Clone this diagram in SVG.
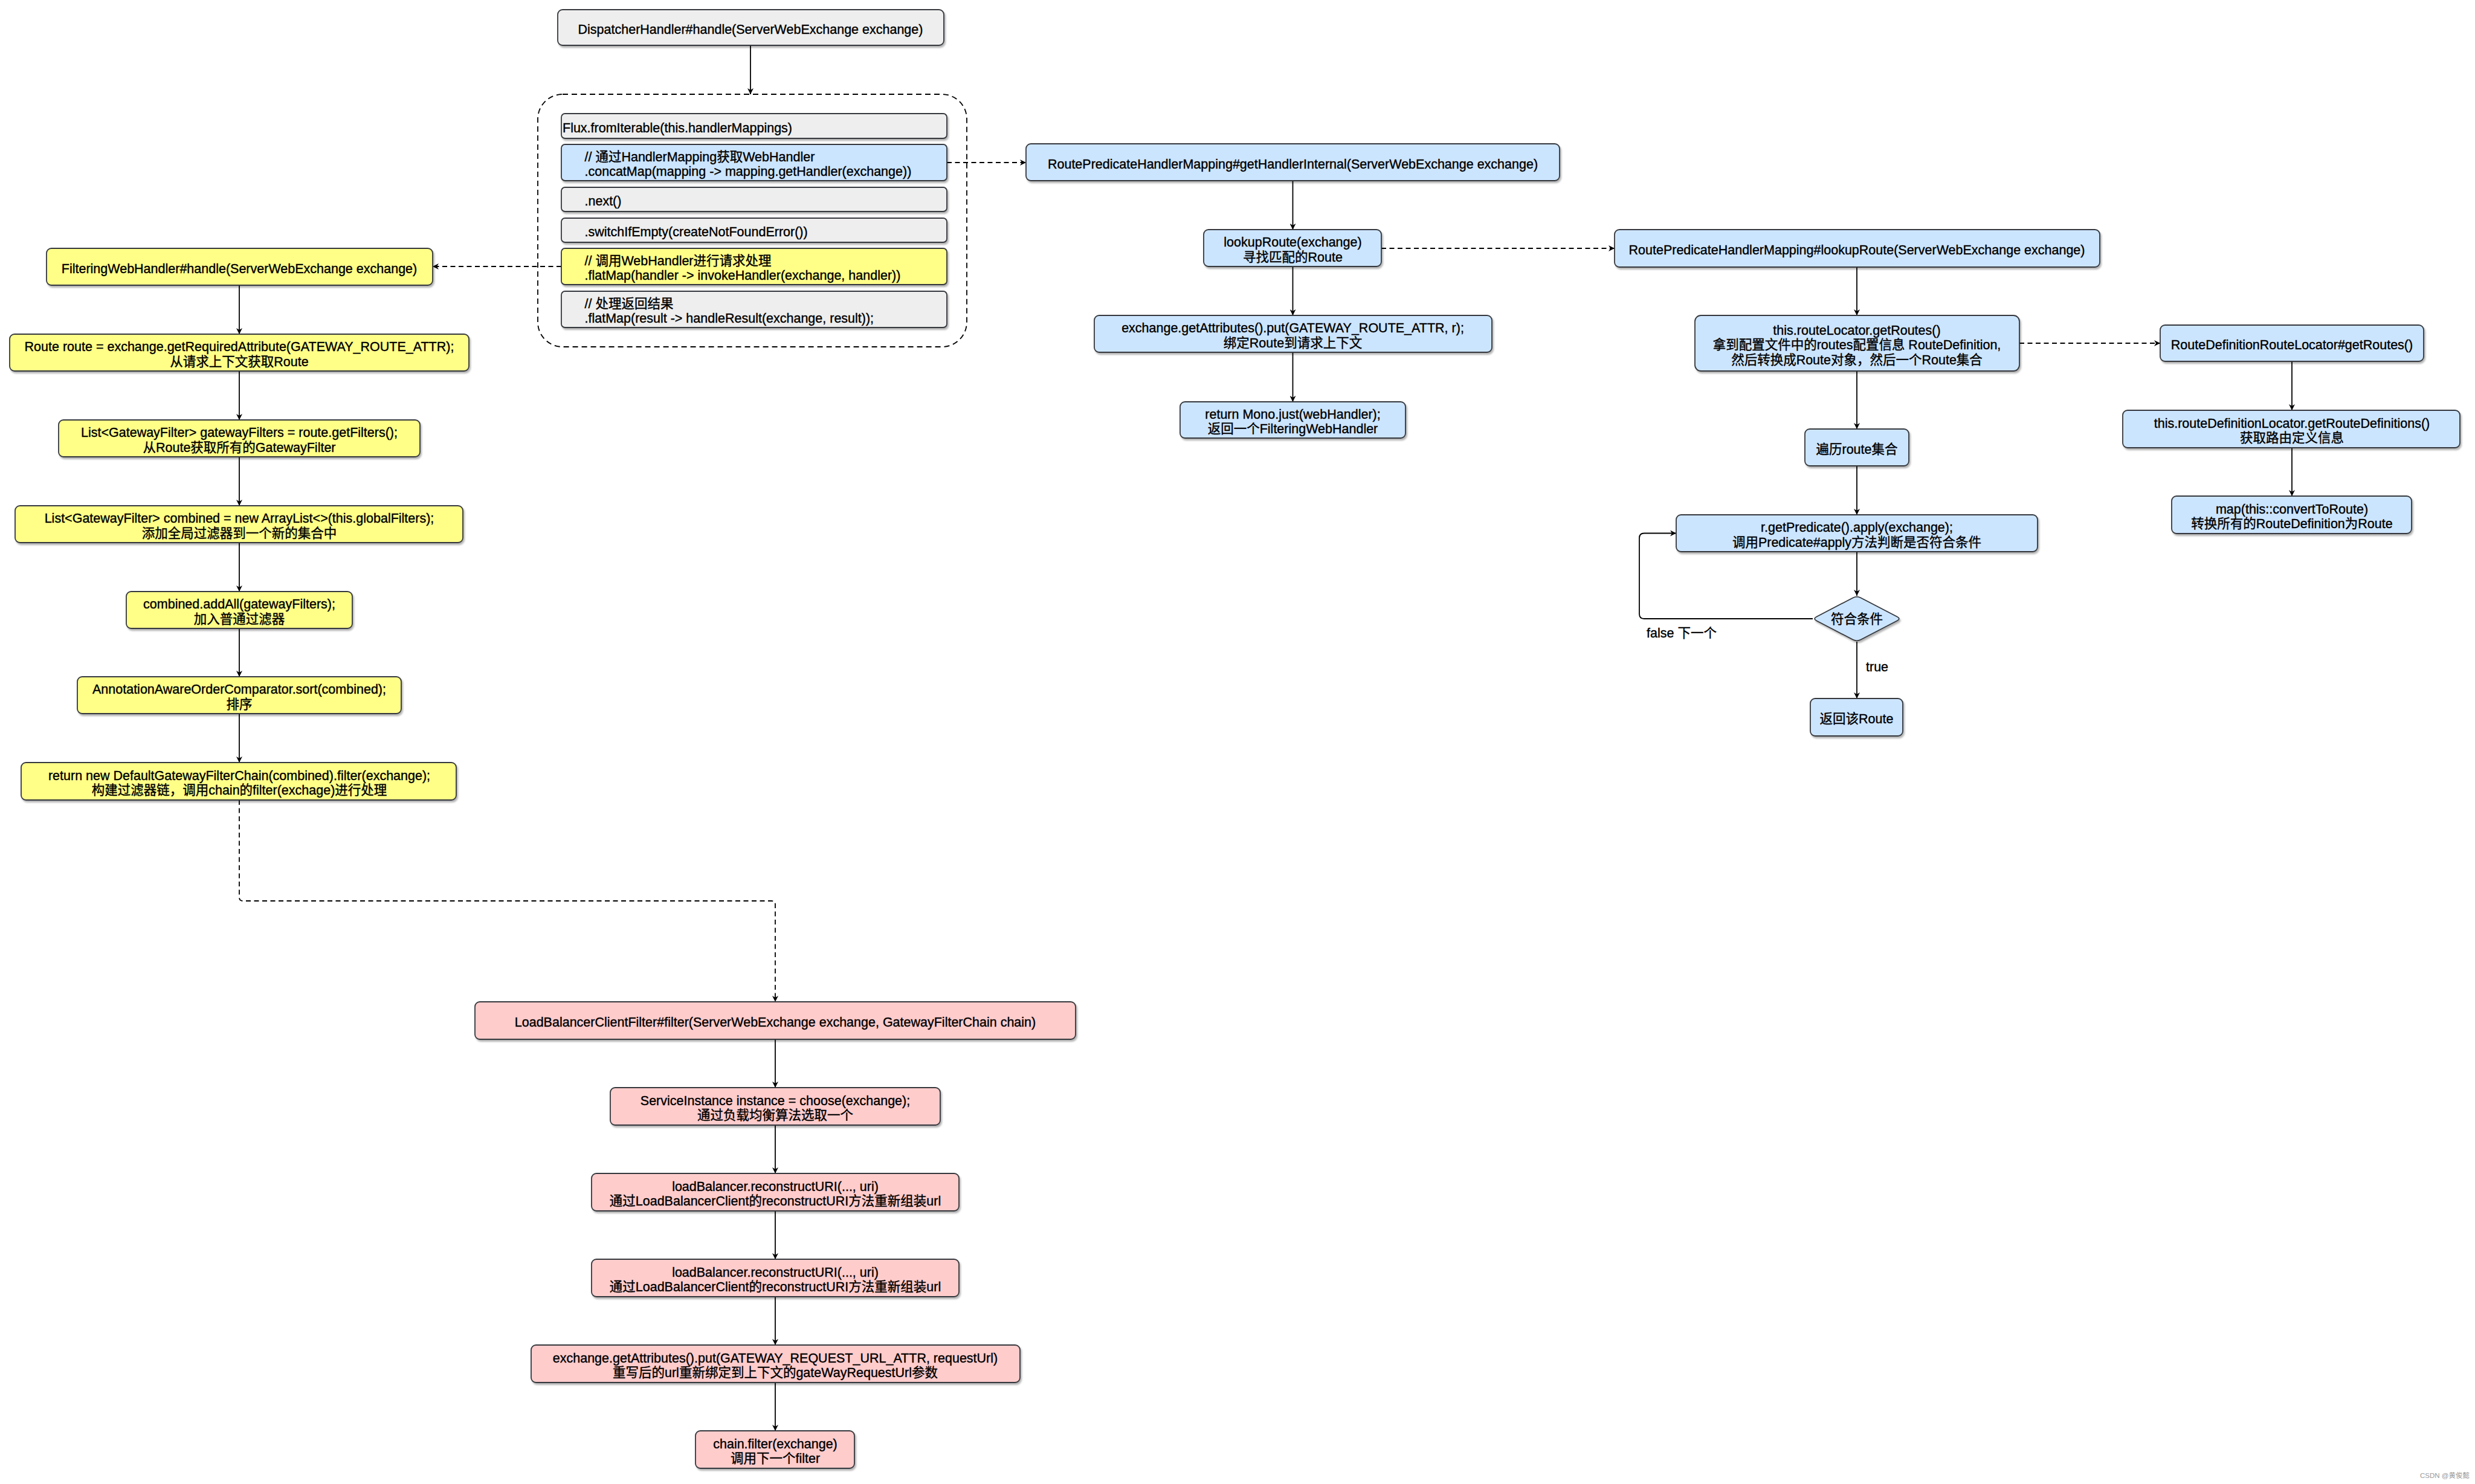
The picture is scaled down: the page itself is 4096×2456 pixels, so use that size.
<svg xmlns="http://www.w3.org/2000/svg" width="4096" height="2456" viewBox="0 0 4096 2456">
<defs>
<filter id="sh" x="-5%" y="-20%" width="110%" height="150%">
<feDropShadow dx="2" dy="3" stdDeviation="1.8" flood-color="#000" flood-opacity="0.3"/>
</filter>
<marker id="arr" viewBox="0 0 10 10" markerWidth="11" markerHeight="10" refX="10" refY="5" orient="auto" markerUnits="userSpaceOnUse">
<path d="M0,0 L10,5 L0,10 L3,5 Z" fill="#000"/>
</marker>
<style>
.n{stroke:#36393d;stroke-width:1.8;filter:url(#sh)}
.gray{fill:#eeeeee}.blue{fill:#cce5ff}.yel{fill:#ffff88}.pink{fill:#ffcccc}
text{font-family:"Liberation Sans","Noto Sans CJK SC",sans-serif;font-size:21.5px;fill:#000;stroke:#000;stroke-width:0.4}
.c{text-anchor:middle}
.l{text-anchor:start}
.e{fill:none;stroke:#000;stroke-width:1.8;marker-end:url(#arr)}
.d{stroke-dasharray:8 5.5}
.wm{font-size:11.5px;fill:#999;stroke:none;text-anchor:end}
</style>
</defs>
<rect width="4096" height="2456" fill="#fff"/>

<g id="connectors">
<path class="e" d="M1242,75 V156"/>
<path class="e d" d="M1567,269 H1698"/>
<path class="e d" d="M929,441 H716"/>
<path class="e" d="M396,472 V553"/>
<path class="e" d="M396,614 V695"/>
<path class="e" d="M396,756 V837"/>
<path class="e" d="M396,898 V979"/>
<path class="e" d="M396,1040 V1120"/>
<path class="e" d="M396,1181 V1262"/>
<path class="e d" d="M396,1324 V1485 Q396,1491 402,1491 H1277 Q1283,1491 1283,1497 V1658"/>
<path class="e" d="M2139.5,299 V380"/>
<path class="e" d="M2139.5,441 V522"/>
<path class="e" d="M2139.5,583 V665"/>
<path class="e d" d="M2286,411 H2672"/>
<path class="e" d="M3073,442 V522"/>
<path class="e" d="M3073,614 V710"/>
<path class="e" d="M3073,771 V852"/>
<path class="e" d="M3073,913 V986"/>
<path class="e" d="M3073,1062 V1156"/>
<path class="e" d="M3000,1024 H2721 Q2713,1024 2713,1016 V890.5 Q2713,882.5 2721,882.5 H2774"/>
<path class="e d" d="M3342,568 H3575"/>
<path class="e" d="M3793,598 V679"/>
<path class="e" d="M3793,741 V821"/>
<path class="e" d="M1283,1720 V1800"/>
<path class="e" d="M1283,1862 V1942"/>
<path class="e" d="M1283,2004 V2084"/>
<path class="e" d="M1283,2146 V2226"/>
<path class="e" d="M1283,2288 V2368"/>
<text class="l" x="2725" y="1055">false 下一个</text>
<text class="l" x="3088" y="1111">true</text>
</g>

<g id="dispatcher">
<rect class="n gray" x="923" y="16" width="639" height="59" rx="8"/>
<text class="c" x="1242" y="56">DispatcherHandler#handle(ServerWebExchange exchange)</text>
</g>

<g id="flux-chain">
<rect x="890" y="156" width="710" height="418" rx="41" fill="none" stroke="#000" stroke-width="1.8" stroke-dasharray="9 6"/>
</g>
<g id="row-fromIterable">
<rect class="n gray" x="929" y="188" width="638" height="41" rx="6"/>
<text class="l" x="931" y="218.5">Flux.fromIterable(this.handlerMappings)</text>
</g>
<g id="row-concatMap">
<rect class="n blue" x="929" y="239" width="638" height="60" rx="6"/>
<text class="l" x="967.5" y="266.75">// 通过HandlerMapping获取WebHandler</text>
<text class="l" x="967.5" y="291.25">.concatMap(mapping -&gt; mapping.getHandler(exchange))</text>
</g>
<g id="row-next">
<rect class="n gray" x="929" y="310" width="638" height="40" rx="6"/>
<text class="l" x="967.5" y="340">.next()</text>
</g>
<g id="row-switchIfEmpty">
<rect class="n gray" x="929" y="361" width="638" height="40" rx="6"/>
<text class="l" x="967.5" y="391">.switchIfEmpty(createNotFoundError())</text>
</g>
<g id="row-invokeHandler">
<rect class="n yel" x="929" y="411" width="638" height="60" rx="6"/>
<text class="l" x="967.5" y="438.75">// 调用WebHandler进行请求处理</text>
<text class="l" x="967.5" y="463.25">.flatMap(handler -&gt; invokeHandler(exchange, handler))</text>
</g>
<g id="row-handleResult">
<rect class="n gray" x="929" y="482" width="638" height="60" rx="6"/>
<text class="l" x="967.5" y="509.75">// 处理返回结果</text>
<text class="l" x="967.5" y="534.25">.flatMap(result -&gt; handleResult(exchange, result));</text>
</g>

<g id="filtering-handle">
<rect class="n yel" x="77" y="411" width="639" height="61" rx="8"/>
<text class="c" x="396" y="451.5">FilteringWebHandler#handle(ServerWebExchange exchange)</text>
</g>
<g id="get-route">
<rect class="n yel" x="16" y="553" width="760" height="61" rx="8"/>
<text class="c" x="396" y="581.25">Route route = exchange.getRequiredAttribute(GATEWAY_ROUTE_ATTR);</text>
<text class="c" x="396" y="605.75">从请求上下文获取Route</text>
</g>
<g id="get-filters">
<rect class="n yel" x="97" y="695" width="598" height="61" rx="8"/>
<text class="c" x="396" y="723.25">List&lt;GatewayFilter&gt; gatewayFilters = route.getFilters();</text>
<text class="c" x="396" y="747.75">从Route获取所有的GatewayFilter</text>
</g>
<g id="combined">
<rect class="n yel" x="25" y="837" width="741" height="61" rx="8"/>
<text class="c" x="396" y="865.25">List&lt;GatewayFilter&gt; combined = new ArrayList&lt;&gt;(this.globalFilters);</text>
<text class="c" x="396" y="889.75">添加全局过滤器到一个新的集合中</text>
</g>
<g id="add-all">
<rect class="n yel" x="209" y="979" width="374" height="61" rx="8"/>
<text class="c" x="396" y="1007.25">combined.addAll(gatewayFilters);</text>
<text class="c" x="396" y="1031.75">加入普通过滤器</text>
</g>
<g id="sort">
<rect class="n yel" x="128" y="1120" width="536" height="61" rx="8"/>
<text class="c" x="396" y="1148.25">AnnotationAwareOrderComparator.sort(combined);</text>
<text class="c" x="396" y="1172.75">排序</text>
</g>
<g id="filter-chain">
<rect class="n yel" x="35" y="1262" width="720" height="62" rx="8"/>
<text class="c" x="396" y="1290.75">return new DefaultGatewayFilterChain(combined).filter(exchange);</text>
<text class="c" x="396" y="1315.25">构建过滤器链，调用chain的filter(exchage)进行处理</text>
</g>

<g id="get-handler-internal">
<rect class="n blue" x="1698" y="238" width="883" height="61" rx="8"/>
<text class="c" x="2139.5" y="278.5">RoutePredicateHandlerMapping#getHandlerInternal(ServerWebExchange exchange)</text>
</g>
<g id="lookup-route-call">
<rect class="n blue" x="1992" y="380" width="294" height="61" rx="8"/>
<text class="c" x="2139.5" y="408.25">lookupRoute(exchange)</text>
<text class="c" x="2139.5" y="432.75">寻找匹配的Route</text>
</g>
<g id="put-route-attr">
<rect class="n blue" x="1811" y="522" width="658" height="61" rx="8"/>
<text class="c" x="2139.5" y="550.25">exchange.getAttributes().put(GATEWAY_ROUTE_ATTR, r);</text>
<text class="c" x="2139.5" y="574.75">绑定Route到请求上下文</text>
</g>
<g id="mono-just">
<rect class="n blue" x="1953" y="665" width="373" height="60" rx="8"/>
<text class="c" x="2139.5" y="692.75">return Mono.just(webHandler);</text>
<text class="c" x="2139.5" y="717.25">返回一个FilteringWebHandler</text>
</g>

<g id="lookup-route">
<rect class="n blue" x="2672" y="380" width="803" height="62" rx="8"/>
<text class="c" x="3073" y="421">RoutePredicateHandlerMapping#lookupRoute(ServerWebExchange exchange)</text>
</g>
<g id="get-routes">
<rect class="n blue" x="2805" y="522" width="537" height="92" rx="10"/>
<text class="c" x="3073" y="553.5">this.routeLocator.getRoutes()</text>
<text class="c" x="3073" y="578">拿到配置文件中的routes配置信息 RouteDefinition,</text>
<text class="c" x="3073" y="602.5">然后转换成Route对象，然后一个Route集合</text>
</g>
<g id="iterate-routes">
<rect class="n blue" x="2987" y="710" width="172" height="61" rx="8"/>
<text class="c" x="3073" y="750.5">遍历route集合</text>
</g>
<g id="predicate-apply">
<rect class="n blue" x="2774" y="852" width="598" height="61" rx="8"/>
<text class="c" x="3073" y="880.25">r.getPredicate().apply(exchange);</text>
<text class="c" x="3073" y="904.75">调用Predicate#apply方法判断是否符合条件</text>
</g>
<g id="match-decision">
<path class="n blue" d="M3066.8,989.2 Q3073,986 3079.2,989.2 L3139.8,1020.8 Q3146,1024 3139.8,1027.2 L3079.2,1058.8 Q3073,1062 3066.8,1058.8 L3006.2,1027.2 Q3000,1024 3006.2,1020.8 Z"/>
<text class="c" x="3073" y="1032">符合条件</text>
</g>
<g id="return-route">
<rect class="n blue" x="2996" y="1156" width="153" height="62" rx="8"/>
<text class="c" x="3072.5" y="1197">返回该Route</text>
</g>

<g id="rdrl-get-routes">
<rect class="n blue" x="3575" y="538" width="436" height="60" rx="8"/>
<text class="c" x="3793" y="578">RouteDefinitionRouteLocator#getRoutes()</text>
</g>
<g id="get-route-definitions">
<rect class="n blue" x="3513" y="679" width="558" height="62" rx="8"/>
<text class="c" x="3793" y="707.75">this.routeDefinitionLocator.getRouteDefinitions()</text>
<text class="c" x="3793" y="732.25">获取路由定义信息</text>
</g>
<g id="convert-to-route">
<rect class="n blue" x="3594" y="821" width="397" height="62" rx="8"/>
<text class="c" x="3793" y="849.75">map(this::convertToRoute)</text>
<text class="c" x="3793" y="874.25">转换所有的RouteDefinition为Route</text>
</g>

<g id="lb-filter">
<rect class="n pink" x="786" y="1658" width="994" height="62" rx="8"/>
<text class="c" x="1283" y="1699">LoadBalancerClientFilter#filter(ServerWebExchange exchange, GatewayFilterChain chain)</text>
</g>
<g id="choose-instance">
<rect class="n pink" x="1010" y="1800" width="546" height="62" rx="8"/>
<text class="c" x="1283" y="1828.75">ServiceInstance instance = choose(exchange);</text>
<text class="c" x="1283" y="1853.25">通过负载均衡算法选取一个</text>
</g>
<g id="reconstruct-uri-1">
<rect class="n pink" x="979" y="1942" width="608" height="62" rx="8"/>
<text class="c" x="1283" y="1970.75">loadBalancer.reconstructURI(..., uri)</text>
<text class="c" x="1283" y="1995.25">通过LoadBalancerClient的reconstructURI方法重新组装url</text>
</g>
<g id="reconstruct-uri-2">
<rect class="n pink" x="979" y="2084" width="608" height="62" rx="8"/>
<text class="c" x="1283" y="2112.75">loadBalancer.reconstructURI(..., uri)</text>
<text class="c" x="1283" y="2137.25">通过LoadBalancerClient的reconstructURI方法重新组装url</text>
</g>
<g id="put-request-url">
<rect class="n pink" x="879" y="2226" width="809" height="62" rx="8"/>
<text class="c" x="1283" y="2254.75">exchange.getAttributes().put(GATEWAY_REQUEST_URL_ATTR, requestUrl)</text>
<text class="c" x="1283" y="2279.25">重写后的url重新绑定到上下文的gateWayRequestUrl参数</text>
</g>
<g id="chain-filter">
<rect class="n pink" x="1151" y="2368" width="263" height="62" rx="8"/>
<text class="c" x="1283" y="2396.75">chain.filter(exchange)</text>
<text class="c" x="1283" y="2421.25">调用下一个filter</text>
</g>

<text class="wm" x="4087" y="2446">CSDN @黄俊懿</text>
</svg>
